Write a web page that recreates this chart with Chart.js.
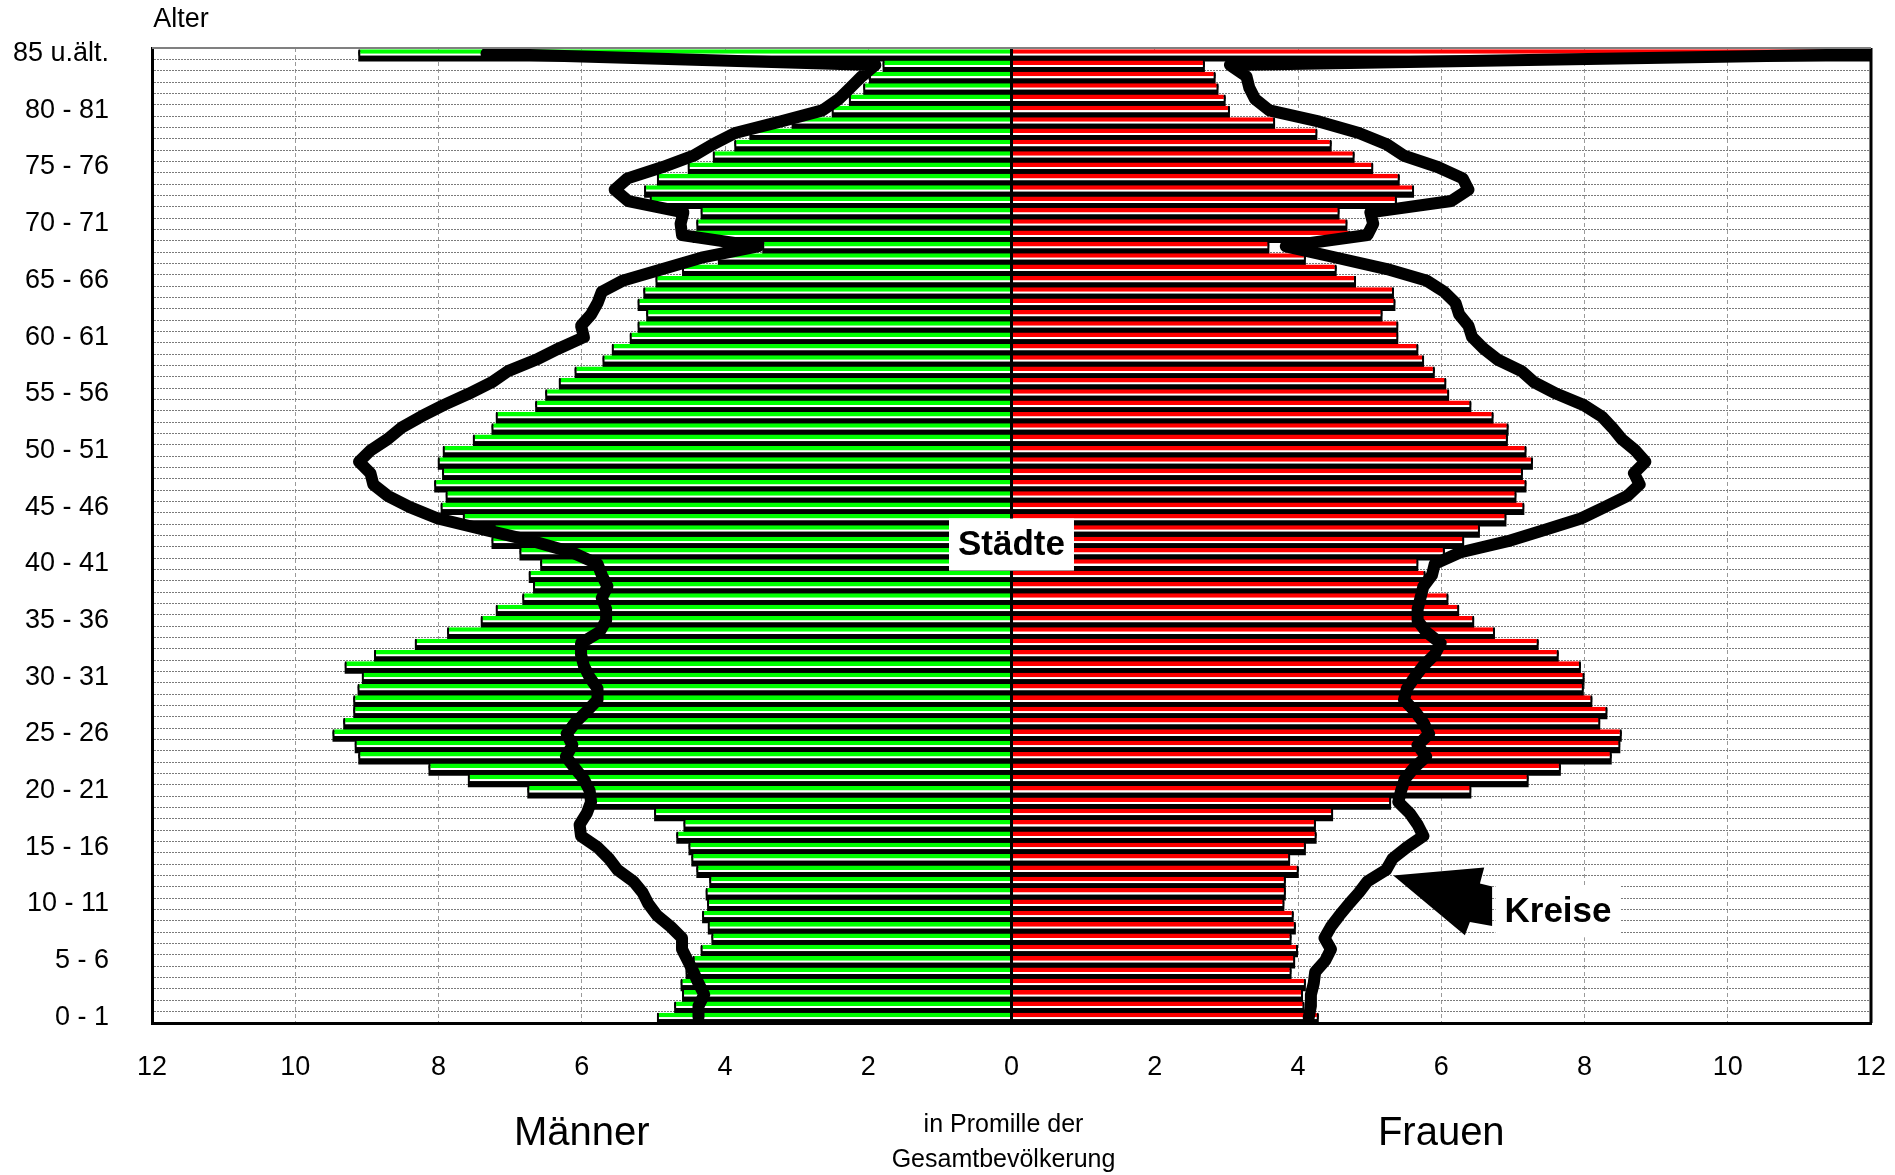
<!DOCTYPE html>
<html>
<head>
<meta charset="utf-8">
<script src="https://cdn.jsdelivr.net/npm/chart.js@4.4.1/dist/chart.umd.min.js"></script>
<style>
body { margin: 0; background: #fff; }
</style>
</head>
<body>
<canvas id="pyramide" width="1895" height="1175"></canvas>
<script>
// Altersgruppen von unten (0 - 1) nach oben (85 u.ält.)
const altersgruppen = [
  '0 - 1', '1 - 2', '2 - 3', '3 - 4', '4 - 5', '5 - 6', '6 - 7', '7 - 8', '8 - 9', '9 - 10',
  '10 - 11', '11 - 12', '12 - 13', '13 - 14', '14 - 15', '15 - 16', '16 - 17', '17 - 18', '18 - 19', '19 - 20',
  '20 - 21', '21 - 22', '22 - 23', '23 - 24', '24 - 25', '25 - 26', '26 - 27', '27 - 28', '28 - 29', '29 - 30',
  '30 - 31', '31 - 32', '32 - 33', '33 - 34', '34 - 35', '35 - 36', '36 - 37', '37 - 38', '38 - 39', '39 - 40',
  '40 - 41', '41 - 42', '42 - 43', '43 - 44', '44 - 45', '45 - 46', '46 - 47', '47 - 48', '48 - 49', '49 - 50',
  '50 - 51', '51 - 52', '52 - 53', '53 - 54', '54 - 55', '55 - 56', '56 - 57', '57 - 58', '58 - 59', '59 - 60',
  '60 - 61', '61 - 62', '62 - 63', '63 - 64', '64 - 65', '65 - 66', '66 - 67', '67 - 68', '68 - 69', '69 - 70',
  '70 - 71', '71 - 72', '72 - 73', '73 - 74', '74 - 75', '75 - 76', '76 - 77', '77 - 78', '78 - 79', '79 - 80',
  '80 - 81', '81 - 82', '82 - 83', '83 - 84', '84 - 85', '85 u.ält.'
];

// nur diese Gruppen bekommen eine Beschriftung an der Achse
const beschriftet = ['0 - 1', '5 - 6', '10 - 11', '15 - 16', '20 - 21', '25 - 26', '30 - 31', '35 - 36',
  '40 - 41', '45 - 46', '50 - 51', '55 - 56', '60 - 61', '65 - 66', '70 - 71', '75 - 76', '80 - 81', '85 u.ält.'];

// Promille der Gesamtbevölkerung, Städte (Balken)
const maennerStaedte = [
  4.95, 4.71, 4.60, 4.62, 4.55, 4.45, 4.34, 4.19, 4.24, 4.32,
  4.25, 4.27, 4.22, 4.40, 4.47, 4.51, 4.68, 4.58, 4.99, 5.85,
  6.76, 7.59, 8.14, 9.12, 9.17, 9.48, 9.33, 9.19, 9.19, 9.13,
  9.07, 9.31, 8.90, 8.33, 7.88, 7.41, 7.20, 6.83, 6.68, 6.74,
  6.58, 6.87, 7.26, 7.23, 7.66, 7.97, 7.90, 8.06, 7.95, 8.01,
  7.94, 7.52, 7.26, 7.20, 6.65, 6.51, 6.32, 6.10, 5.71, 5.58,
  5.33, 5.22, 5.10, 5.22, 5.14, 4.97, 4.60, 4.10, 3.48, 4.45,
  4.40, 4.34, 5.05, 5.13, 4.95, 4.52, 4.17, 3.87, 3.66, 3.07,
  2.51, 2.27, 2.07, 1.99, 1.80, 9.12
];
const frauenStaedte = [
  4.29, 4.09, 4.07, 4.11, 3.91, 3.96, 4.00, 3.91, 3.97, 3.94,
  3.81, 3.83, 3.83, 4.01, 3.89, 4.11, 4.26, 4.25, 4.49, 5.30,
  6.42, 7.22, 7.67, 8.38, 8.50, 8.52, 8.22, 8.32, 8.11, 7.99,
  8.00, 7.95, 7.64, 7.36, 6.75, 6.46, 6.25, 6.10, 5.75, 5.78,
  5.68, 6.05, 6.32, 6.54, 6.91, 7.16, 7.05, 7.19, 7.14, 7.28,
  7.19, 6.93, 6.94, 6.73, 6.42, 6.11, 6.07, 5.91, 5.76, 5.68,
  5.40, 5.40, 5.18, 5.36, 5.34, 4.81, 4.54, 4.11, 3.60, 4.73,
  4.69, 4.58, 5.38, 5.62, 5.42, 5.05, 4.79, 4.47, 4.27, 3.68,
  3.05, 2.99, 2.89, 2.85, 2.70, 13.0
];

// Kreise (dicke Linie)
const maennerKreise = [
  4.37, 4.37, 4.29, 4.37, 4.44, 4.52, 4.60, 4.60, 4.76, 4.95,
  5.07, 5.15, 5.28, 5.50, 5.62, 5.78, 6.01, 6.03, 5.93, 5.87,
  5.89, 5.97, 6.10, 6.22, 6.13, 6.21, 6.09, 5.93, 5.78, 5.78,
  5.89, 5.97, 6.01, 6.01, 5.75, 5.66, 5.66, 5.72, 5.64, 5.72,
  5.78, 6.13, 6.68, 7.35, 8.01, 8.40, 8.71, 8.91, 8.95, 9.11,
  8.95, 8.71, 8.52, 8.24, 7.93, 7.58, 7.26, 7.03, 6.64, 6.32,
  5.97, 6.01, 5.87, 5.78, 5.72, 5.42, 4.87, 4.33, 3.54, 4.60,
  4.62, 4.58, 5.35, 5.54, 5.36, 4.87, 4.44, 4.17, 3.86, 3.23,
  2.64, 2.41, 2.25, 2.09, 1.90, 7.33
];
const frauenKreise = [
  4.15, 4.18, 4.18, 4.22, 4.24, 4.38, 4.46, 4.37, 4.46, 4.58,
  4.71, 4.85, 4.97, 5.23, 5.32, 5.52, 5.75, 5.67, 5.56, 5.40,
  5.44, 5.49, 5.62, 5.79, 5.67, 5.83, 5.75, 5.63, 5.48, 5.52,
  5.63, 5.75, 5.91, 5.99, 5.79, 5.67, 5.67, 5.71, 5.75, 5.87,
  5.91, 6.26, 6.93, 7.45, 7.95, 8.28, 8.60, 8.77, 8.69, 8.85,
  8.71, 8.52, 8.39, 8.24, 7.99, 7.61, 7.30, 7.12, 6.79, 6.59,
  6.43, 6.38, 6.25, 6.20, 6.04, 5.79, 5.24, 4.54, 3.83, 4.97,
  5.05, 5.01, 6.14, 6.38, 6.30, 5.95, 5.48, 5.24, 4.85, 4.30,
  3.60, 3.40, 3.32, 3.28, 3.05, 12.5
];

// Pfeil zur Beschriftung "Kreise", in Achsenwerten (Promille, Altersindex)
const pfeil = [[5.33, 12.52], [6.60, 13.22], [6.54, 11.8], [6.71, 11.55], [6.71, 8.05], [6.40, 8.4], [6.33, 7.23]];
const marken = [
  { text: 'Städte', wert: 0, alter: 41.7 },
  { text: 'Kreise', wert: 7.63, alter: 9.35 }
];

const schrift = 'Liberation Sans, Arial, sans-serif';
Chart.defaults.font.family = schrift;
Chart.defaults.color = '#000';

const neg = a => a.map(v => -v);
const spanne = altersgruppen.map((_, i) => [-maennerStaedte[i], frauenStaedte[i]]);
const endRand = { top: 0, bottom: 0, left: 2, right: 2 };

const beschriftung = {
  id: 'beschriftung',
  afterDatasetsDraw(chart) {
    const { ctx, chartArea: a, scales: { x, y } } = chart;
    ctx.save();
    // Nulllinie und Rahmen
    ctx.strokeStyle = '#000';
    ctx.lineWidth = 3;
    const x0 = x.getPixelForValue(0);
    ctx.beginPath();
    ctx.moveTo(x0, a.top); ctx.lineTo(x0, a.bottom);
    ctx.moveTo(a.right, a.top); ctx.lineTo(a.right, a.bottom);
    ctx.stroke();
    ctx.strokeStyle = '#808080';
    ctx.lineWidth = 2;
    ctx.beginPath();
    ctx.moveTo(a.left, a.top); ctx.lineTo(a.right, a.top);
    ctx.stroke();

    // Pfeil
    ctx.fillStyle = '#000';
    ctx.beginPath();
    pfeil.forEach(([v, r], i) => {
      const px = x.getPixelForValue(v), py = y.getPixelForValue(r);
      if (i) ctx.lineTo(px, py); else ctx.moveTo(px, py);
    });
    ctx.closePath();
    ctx.fill();

    // Kästchen mit Text
    ctx.font = 'bold 35px ' + schrift;
    ctx.textAlign = 'center';
    ctx.textBaseline = 'middle';
    marken.forEach(m => {
      const px = x.getPixelForValue(m.wert), py = y.getPixelForValue(m.alter);
      const w = ctx.measureText(m.text).width + 18;
      ctx.fillStyle = '#fff';
      ctx.fillRect(px - w / 2, py - 26, w, 52);
      ctx.fillStyle = '#000';
      ctx.fillText(m.text, px, py + 1);
    });
    ctx.restore();
  },
  afterDraw(chart) {
    const { ctx, chartArea: a, scales: { x } } = chart;
    ctx.save();
    ctx.fillStyle = '#000';
    ctx.textAlign = 'center';
    ctx.textBaseline = 'middle';
    ctx.font = '27px ' + schrift;
    ctx.fillText('Alter', a.left + 29, a.top - 28);
    ctx.font = '40px ' + schrift;
    ctx.fillText('Männer', x.getPixelForValue(-6), a.bottom + 111);
    ctx.fillText('Frauen', x.getPixelForValue(6), a.bottom + 111);
    ctx.font = '25px ' + schrift;
    ctx.fillText('in Promille der', x.getPixelForValue(0) - 8, a.bottom + 102);
    ctx.fillText('Gesamtbevölkerung', x.getPixelForValue(0) - 8, a.bottom + 137);
    ctx.restore();
  }
};

new Chart(document.getElementById('pyramide'), {
  type: 'bar',
  data: {
    labels: altersgruppen,
    datasets: [
      {
        type: 'line', label: 'Männer Kreise', data: neg(maennerKreise), indexAxis: 'y',
        borderColor: '#000', borderWidth: 12, pointRadius: 0, tension: 0,
        borderJoinStyle: 'round', borderCapStyle: 'round', order: 0
      },
      {
        type: 'line', label: 'Frauen Kreise', data: frauenKreise, indexAxis: 'y',
        borderColor: '#000', borderWidth: 12, pointRadius: 0, tension: 0,
        borderJoinStyle: 'round', borderCapStyle: 'round', order: 0
      },
      {
        label: 'Männer Städte', data: neg(maennerStaedte), backgroundColor: '#00ff00',
        borderColor: '#000', borderWidth: endRand, borderSkipped: 'start',
        stack: 'oben', categoryPercentage: 0.8, barPercentage: 1, order: 1
      },
      {
        label: 'Frauen Städte', data: frauenStaedte, backgroundColor: '#ff0000',
        borderColor: '#000', borderWidth: endRand, borderSkipped: 'start',
        stack: 'oben', categoryPercentage: 0.8, barPercentage: 1, order: 1
      },
      {
        label: 'Schatten', data: spanne, backgroundColor: '#fff',
        borderColor: '#000', borderWidth: endRand, borderSkipped: false,
        grouped: false, categoryPercentage: 1, barPercentage: 0.36, order: 2
      },
      {
        label: 'Rahmen', data: spanne, backgroundColor: '#000', borderWidth: 0,
        stack: 'unten', categoryPercentage: 0.8, barPercentage: 2.5, order: 3
      }
    ]
  },
  options: {
    indexAxis: 'y',
    responsive: false,
    devicePixelRatio: 1,
    animation: false,
    layout: { padding: { top: 48, right: 24, left: 0, bottom: 0 } },
    plugins: { legend: { display: false }, tooltip: { enabled: false } },
    scales: {
      x: {
        type: 'linear', min: -12, max: 12, stacked: false,
        ticks: { stepSize: 2, callback: v => Math.abs(v), font: { size: 27 }, color: '#000', padding: 4 },
        grid: {
          drawTicks: true, tickLength: 24, tickColor: 'rgba(0,0,0,0)',
          color: c => c.tick && c.tick.value === 0 ? '#000' : '#9a9a9a',
          lineWidth: c => c.tick && c.tick.value === 0 ? 3 : 1
        },
        border: { color: '#000', width: 3, dash: [4, 3] },
        afterFit: s => { s.height = 152; }
      },
      y: {
        type: 'category', reverse: true, offset: true,
        ticks: {
          autoSkip: false, padding: 4, font: { size: 27 }, color: '#000',
          callback: function (val) {
            const l = this.getLabelForValue(val);
            return beschriftet.includes(l) ? l : '';
          }
        },
        grid: { offset: true, drawTicks: true, tickLength: 39, tickColor: 'rgba(0,0,0,0)', color: '#7a7a7a', lineWidth: 1 },
        border: { color: '#000', width: 3, dash: [2, 1] },
        afterFit: s => { s.width = 152; }
      }
    }
  },
  plugins: [beschriftung]
});
</script>
</body>
</html>
